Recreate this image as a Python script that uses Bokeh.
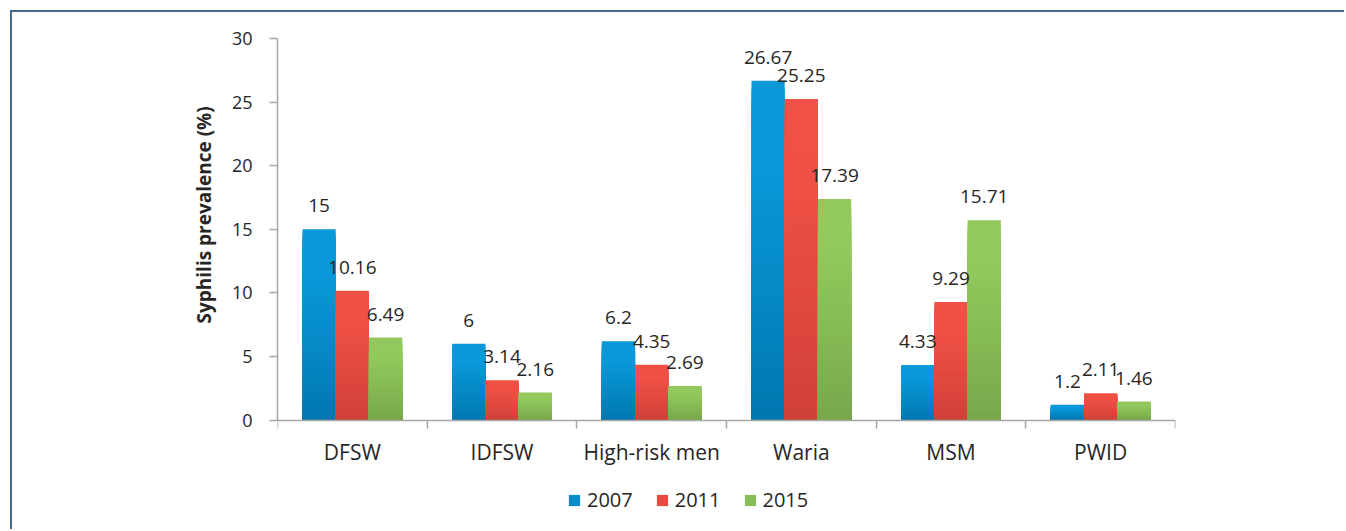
from bokeh.plotting import figure
from bokeh.models import (ColumnDataSource, FixedTicker, Legend, LegendItem,
                          LabelSet, Title)
from bokeh.core.properties import value
from bokeh.embed import file_html
from bokeh.resources import INLINE

categories = ["DFSW", "IDFSW", "High-risk men", "Waria", "MSM", "PWID"]
years = ["2007", "2011", "2015"]
v2007 = [15, 6, 6.2, 26.67, 4.33, 1.2]
v2011 = [10.16, 3.14, 4.35, 25.25, 9.29, 2.11]
v2015 = [6.49, 2.16, 2.69, 17.39, 15.71, 1.46]
y_ticks = [0, 5, 10, 15, 20, 25, 30]

series = [v2007, v2011, v2015]
# (bottom colour, top colour) of each series' vertical gradient
grad = [((0, 118, 174), (10, 152, 216)),
        ((206, 64, 56), (240, 80, 69)),
        ((118, 166, 74), (146, 200, 92))]

FONT = "Open Sans"
TXT = "#262626"
AX = "#a6a6a6"

# the frame reaches below the axis (placed at y=0) so the legend fits inside it
p = figure(width=1334, height=519, output_backend="svg", toolbar_location=None,
           x_range=(0, 6), y_range=(-7.5, 30),
           min_border_left=265, min_border_right=171,
           min_border_top=26, min_border_bottom=16)
p.styles = {"border-top": "2px solid #46698b", "border-left": "2px solid #46698b",
            "margin-left": "10px", "margin-top": "10px"}
p.outline_line_color = None
p.grid.grid_line_color = None
p.background_fill_color = "white"
p.border_fill_color = "white"

n = len(categories)
bw = 0.222
offsets = [-bw, 0.0, bw]
N = 40
legend_items = []
for s, (vals, off, (c0, c1), yr) in enumerate(zip(series, offsets, grad, years)):
    xs = [i + 0.5 + off for i in range(n)]
    mid_r = None
    # tallest (brightest) first, each shorter darker bar drawn over it
    for k in range(N, 0, -1):
        t = (k - 0.5) / N
        f = min(1.0, t / 0.75) ** 0.9
        col = "#%02x%02x%02x" % tuple(int(round(a + (b - a) * f)) for a, b in zip(c0, c1))
        src = ColumnDataSource(dict(x=xs, top=[v * k / N for v in vals]))
        r = p.vbar(x="x", bottom=0, top="top", width=bw, source=src,
                   fill_color=col, line_color=None)
        if k == N // 2:
            mid_r = r
    legend_items.append(LegendItem(label=yr, renderers=[mid_r]))
    lsrc = ColumnDataSource(dict(x=xs, y=vals, t=[f"{v:g}" for v in vals]))
    p.add_layout(LabelSet(x="x", y="y", text="t", source=lsrc, y_offset=17,
                          text_align="center", text_baseline="alphabetic",
                          text_font=value(FONT), text_font_size=value("19px"),
                          text_color=TXT))

# x axis: category names at centres, tick marks at boundaries
xa = p.xaxis[0]
xa.fixed_location = 0
xa.ticker = FixedTicker(ticks=[i + 0.5 for i in range(n)],
                        minor_ticks=list(range(n + 1)))
xa.major_label_overrides = {i + 0.5: c for i, c in enumerate(categories)}
xa.major_tick_out = 0
xa.major_tick_in = 0
xa.minor_tick_out = 8
xa.minor_tick_in = 0
xa.minor_tick_line_color = AX
xa.minor_tick_line_width = 1.5
xa.axis_line_color = AX
xa.axis_line_width = 1.5
xa.major_label_standoff = 10
xa.major_label_text_font = FONT
xa.major_label_text_font_size = "21px"
xa.major_label_text_color = TXT

ya = p.yaxis[0]
ya.bounds = (0, 30)
ya.ticker = FixedTicker(ticks=y_ticks)
ya.major_tick_out = 8
ya.major_tick_in = 0
ya.minor_tick_line_color = None
ya.major_tick_line_color = AX
ya.major_tick_line_width = 1.5
ya.axis_line_color = AX
ya.axis_line_width = 1.5
ya.major_label_standoff = 17
ya.major_label_text_font = FONT
ya.major_label_text_font_size = "18px"
ya.major_label_text_color = TXT

p.add_layout(Title(text="Syphilis prevalence (%)", align="left", offset=192,
                   standoff=23, text_font=FONT, text_font_style="bold",
                   text_font_size="19px", text_color=TXT), "left")

legend = Legend(items=legend_items, orientation="horizontal", location=(290, 2),
                glyph_width=14, glyph_height=14, label_standoff=6, spacing=22,
                label_text_font=FONT, label_text_font_size="20px",
                label_text_color=TXT, border_line_color=None,
                background_fill_alpha=0, padding=0, margin=0)
p.add_layout(legend, "center")

open("out.html", "w").write(file_html(p, INLINE))
